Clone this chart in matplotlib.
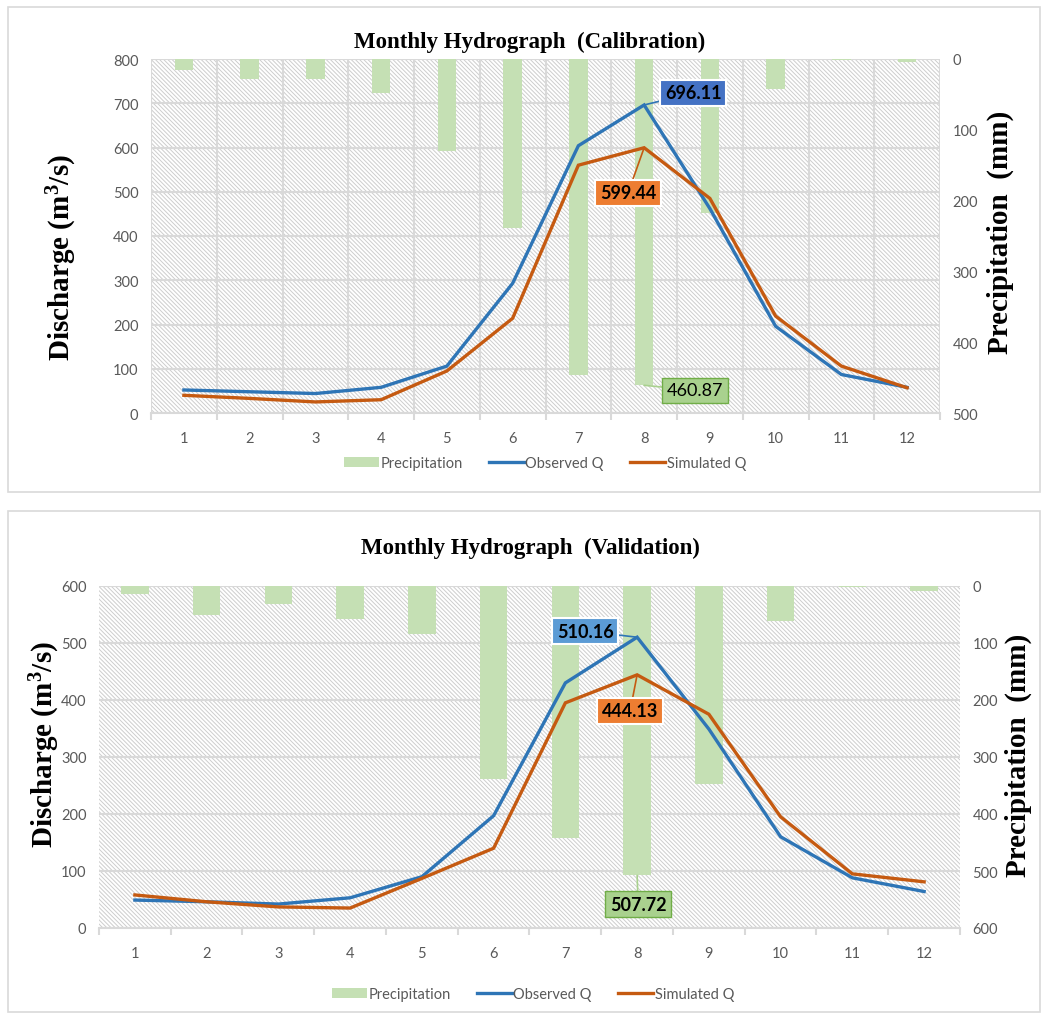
import matplotlib
matplotlib.use("Agg")
import matplotlib.pyplot as plt
from matplotlib.patches import Rectangle, Patch
from matplotlib.lines import Line2D
import numpy as np

# ---------------- data ----------------
months = [1, 2, 3, 4, 5, 6, 7, 8, 9, 10, 11, 12]
month_labels = [str(m) for m in months]

cal_precip = [15, 28, 28, 48, 130, 238, 446, 460.87, 217, 42, 2, 4]
cal_observed = [52, 48, 44, 58, 106, 293, 604, 696.11, 462, 196, 87, 58]
cal_simulated = [40, 33, 25, 30, 95, 214, 560, 599.44, 485, 219, 106, 57]

val_precip = [14, 51, 32, 58, 84, 339, 442, 507.72, 347, 61, 2, 9]
val_observed = [49, 46, 42, 53, 90, 197, 430, 510.16, 349, 160, 88, 64]
val_simulated = [58, 46, 37, 35, 87, 140, 395, 444.13, 375, 195, 95, 81]

W, H = 1042, 1020
plt.rcParams['hatch.linewidth'] = 0.7
plt.rcParams['hatch.color'] = '#cdcdcd'
plt.rcParams['mathtext.fontset'] = 'custom'
plt.rcParams['mathtext.rm'] = 'Liberation Serif:bold'
plt.rcParams['mathtext.it'] = 'Liberation Serif:italic:bold'
plt.rcParams['mathtext.bf'] = 'Liberation Serif:bold'

fig = plt.figure(figsize=(W / 100, H / 100), dpi=100)

GRAY_TXT = '#595959'
GRID = '#d9d9d9'
BLUE = '#2E75B6'
ORANGE = '#C55A11'
GREEN = '#C5E0B4'
SANS = 'Lato'
SERIF = 'Liberation Serif'


def px_rect(l, t, r, b):
    return [l / W, 1 - b / H, (r - l) / W, (b - t) / H]


def panel(rect, box, title, title_xy, ylab_l_xy, ylab_r_xy, legend_xy,
          precip, obs, sim, dmax, pmax, bar_w, vgrid, ann):
    l, t, r, b = box
    fig.add_artist(Rectangle((l / W, 1 - b / H), (r - l) / W, (b - t) / H,
                             transform=fig.transFigure, fill=False,
                             edgecolor='#d9d9d9', lw=1.2))
    x = np.array(months)
    ax = fig.add_axes(rect)
    ax.patch.set_facecolor('white')
    hatch = Rectangle((0, 0), 1, 1, transform=ax.transAxes, facecolor='white',
                      edgecolor='#cdcdcd', hatch='\\' * 8, lw=0, zorder=0)
    ax.add_patch(hatch)
    ax.set_xlim(0.5, 12.5)
    ax.set_ylim(0, dmax)
    ax.set_yticks(np.arange(0, dmax + 1, 100))
    ax.yaxis.grid(True, color=GRID, lw=1.5, zorder=1)
    ax.set_axisbelow(False)
    if vgrid:
        for xv in np.arange(0.5, 13, 1.0):
            ax.axvline(xv, color=GRID, lw=1.5, zorder=1)
    for s in ['left', 'right', 'top']:
        ax.spines[s].set_visible(False)
    ax.spines['bottom'].set_color(GRID)
    ax.spines['bottom'].set_linewidth(1.5)
    ax.set_xticks(x)
    ax.set_xticklabels(month_labels)
    ax.set_xticks(np.arange(0.5, 13, 1.0), minor=True)
    ax.tick_params(axis='x', which='major', length=0, pad=13, labelsize=10.5,
                   labelcolor=GRAY_TXT)
    ax.tick_params(axis='x', which='minor', length=5, color=GRID, width=1.5)
    ax.tick_params(axis='y', length=0, pad=9, labelsize=10.5, labelcolor=GRAY_TXT)
    for lab in ax.get_xticklabels() + ax.get_yticklabels():
        lab.set_fontfamily(SANS)

    ax2 = ax.twinx()
    ax2.set_ylim(pmax, 0)
    ax2.set_yticks(np.arange(0, pmax + 1, 100))
    for s in ax2.spines.values():
        s.set_visible(False)
    ax2.tick_params(axis='y', length=0, pad=9, labelsize=10.5, labelcolor=GRAY_TXT)
    for lab in ax2.get_yticklabels():
        lab.set_fontfamily(SANS)
    ax2.bar(x, precip, width=bar_w, color=GREEN, zorder=2)

    ax3 = ax.twinx()
    ax3.set_ylim(0, dmax)
    ax3.set_xlim(0.5, 12.5)
    ax3.axis('off')
    ax3.plot(x, obs, color=BLUE, lw=2.4, solid_joinstyle='miter')
    ax3.plot(x, sim, color=ORANGE, lw=2.4, solid_joinstyle='miter')

    i = 7
    (ob_off, ob_fc, ob_w), (sm_off, sm_fc, sm_w), (pr_off, pr_fc, pr_w) = ann
    ax3.annotate(f'{obs[i]:.2f}', xy=(x[i], obs[i]), xytext=ob_off,
                 textcoords='offset pixels', ha='center', va='center',
                 fontsize=13, fontweight=ob_w, family=SANS, color='black',
                 bbox=dict(boxstyle='square,pad=0.25', fc=ob_fc, ec='white', lw=1.5),
                 arrowprops=dict(arrowstyle='-', color=BLUE, lw=1.2,
                                 shrinkA=0, shrinkB=0))
    ax3.annotate(f'{sim[i]:.2f}', xy=(x[i], sim[i]), xytext=sm_off,
                 textcoords='offset pixels', ha='center', va='center',
                 fontsize=13, fontweight=sm_w, family=SANS, color='black',
                 bbox=dict(boxstyle='square,pad=0.25', fc=sm_fc, ec='white', lw=1.5),
                 arrowprops=dict(arrowstyle='-', color=ORANGE, lw=1.2,
                                 shrinkA=0, shrinkB=0))
    ax2.annotate(f'{precip[i]:.2f}', xy=(x[i], precip[i]), xytext=pr_off,
                 textcoords='offset pixels', ha='center', va='center',
                 fontsize=13, fontweight=pr_w, family=SANS, color='black',
                 bbox=dict(boxstyle='square,pad=0.25', fc=pr_fc, ec='#70AD47', lw=1.0),
                 arrowprops=dict(arrowstyle='-', color='#A9D18E', lw=1.2,
                                 shrinkA=0, shrinkB=0), zorder=5)

    fig.text(title_xy[0] / W, 1 - title_xy[1] / H, title, ha='center', va='center',
             family=SERIF, fontweight='bold', fontsize=16.5, color='black')
    fig.text(ylab_l_xy[0] / W, 1 - ylab_l_xy[1] / H, 'Discharge (m$^3$/s)',
             rotation=90, ha='center', va='center', family=SERIF,
             fontweight='bold', fontsize=21)
    fig.text(ylab_r_xy[0] / W, 1 - ylab_r_xy[1] / H, 'Precipitation  (mm)',
             rotation=90, ha='center', va='center', family=SERIF,
             fontweight='bold', fontsize=21)

    handles = [Patch(facecolor=GREEN, edgecolor='none'),
               Line2D([], [], color=BLUE, lw=2.4),
               Line2D([], [], color=ORANGE, lw=2.4)]
    leg = fig.legend(handles, ['Precipitation', 'Observed Q', 'Simulated Q'],
                     loc='center', bbox_to_anchor=(legend_xy[0] / W, 1 - legend_xy[1] / H),
                     ncol=3, frameon=False, handlelength=2.4, handletextpad=0.1,
                     columnspacing=1.8, prop={'family': SANS, 'size': 10.5})
    for tx in leg.get_texts():
        tx.set_color(GRAY_TXT)


panel(px_rect(151, 60, 940, 414), (8, 8, 1040, 493),
      'Monthly Hydrograph  (Calibration)', (530, 42), (62, 258), (1000, 232), (545, 464),
      cal_precip, cal_observed, cal_simulated, 800, 500, 0.28, True,
      (((49, 12), '#4472C4', 'bold'), ((-16, -45), '#ED7D31', 'bold'),
       ((51, -5), '#A9D18E', 'normal')))

panel(px_rect(99, 587, 960, 929), (8, 512, 1040, 1013),
      'Monthly Hydrograph  (Validation)', (530, 548), (45, 745), (1018, 755), (533, 995),
      val_precip, val_observed, val_simulated, 600, 600, 0.38, False,
      (((-52, 6), '#5B9BD5', 'bold'), ((-7, -36), '#ED7D31', 'bold'),
       ((1, -29), '#A9D18E', 'bold')))

fig.savefig('out.png', dpi=100)
